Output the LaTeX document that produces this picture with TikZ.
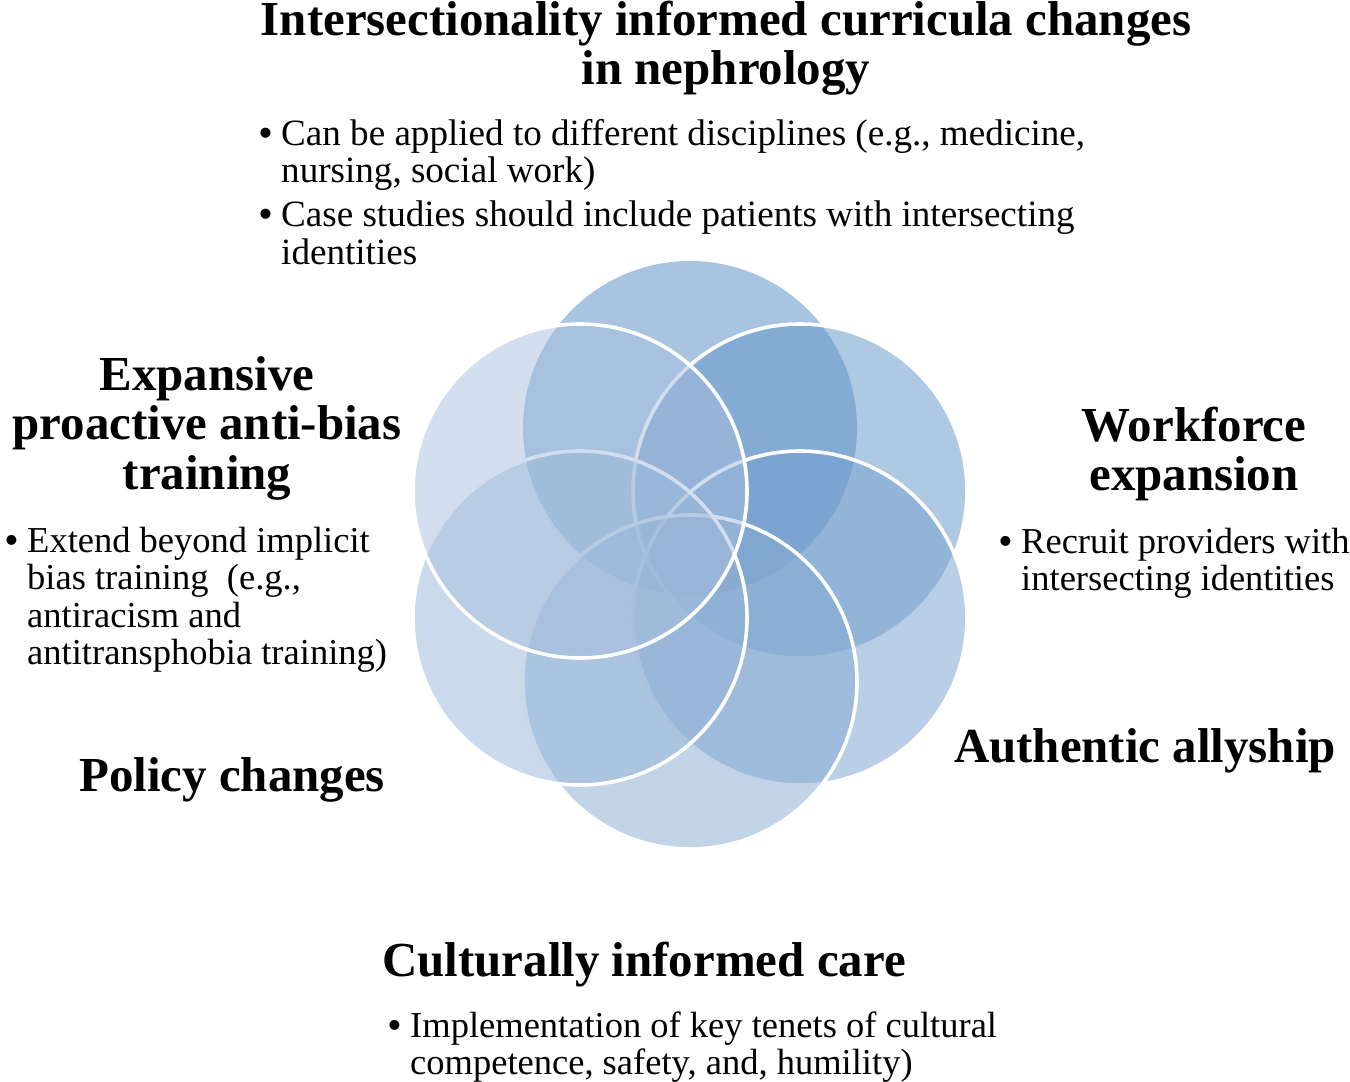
\documentclass[tikz,border=0pt]{standalone}
\usepackage{fontspec}
\setmainfont{Liberation Serif}
\newfontfamily\bulfont{Liberation Sans}
\definecolor{cA}{RGB}{81,137,193}
\definecolor{cB}{RGB}{98,148,199}
\definecolor{cC}{RGB}{115,159,204}
\definecolor{cD}{RGB}{133,169,210}
\definecolor{cE}{RGB}{150,180,215}
\definecolor{cF}{RGB}{167,191,221}
\newcommand\mybul{\makebox[22pt][l]{\bulfont •}}
\tikzset{
  venn/.style={circle, minimum size=334pt, inner sep=0pt, outer sep=0pt, fill opacity=0.5},
  ring/.style={draw=white, line width=3.6pt},
  ttl/.style={font=\fontsize{48.9}{49.5}\selectfont\bfseries, inner sep=0pt, anchor=base},
  blt/.style={font=\fontsize{37.1}{37.8}\selectfont, inner sep=0pt, anchor=base west},
  bltsmall/.style={font=\fontsize{36.5}{37.6}\selectfont, inner sep=0pt, anchor=base west}
}
\begin{document}
\begin{tikzpicture}[x=1pt,y=-1pt]
\useasboundingbox (0,0) rectangle (1350,1082);
% circles, drawn clockwise from the top
\node[venn, fill=cA] (ctop) at (690,428) {};
\node[venn, fill=cB, ring] (cur) at (800,491) {};
\node[venn, fill=cC, ring] (clr) at (800,618) {};
\node[venn, fill=cD, ring] (cbot) at (690,682) {};
\node[venn, fill=cE, ring] (cll) at (580,618) {};
\node[venn, fill=cF, ring] (cul) at (580,491) {};
% top
\node[ttl] (ttop) at (726,35) {\begin{tabular}[t]{@{}c@{}}Intersectionality informed curricula changes\\ in nephrology\end{tabular}};
\node[blt] (btop) at (259,145) {\begin{tabular}[t]{@{}l@{}l@{}}\mybul & Can be applied to different disciplines (e.g., medicine,\\ & nursing, social work)\\[6pt] \mybul & Case studies should include patients with intersecting\\ & identities\end{tabular}};
% left
\node[ttl] (tleft) at (207,390) {\begin{tabular}[t]{@{}c@{}}Expansive\\ proactive anti-bias\\ training\end{tabular}};
\node[bltsmall] (bleft) at (5,552) {\begin{tabular}[t]{@{}l@{}l@{}}\mybul & Extend beyond implicit\\ & bias training\ \ (e.g.,\\ & antiracism and\\ & antitransphobia training)\end{tabular}};
% right
\node[ttl] (tright) at (1194,441) {\begin{tabular}[t]{@{}c@{}}Workforce\\ expansion\end{tabular}};
\node[bltsmall] (bright) at (999,553) {\begin{tabular}[t]{@{}l@{}l@{}}\mybul & Recruit providers with\\ & intersecting identities\end{tabular}};
% lower labels
\node[ttl] (tally) at (1145,762) {Authentic allyship};
\node[ttl] (tpol) at (232,791) {Policy changes};
\node[ttl] (tcare) at (644,976) {Culturally informed care};
\node[bltsmall] (bcare) at (388,1037) {\begin{tabular}[t]{@{}l@{}l@{}}\mybul & Implementation of key tenets of cultural\\ & competence, safety, and, humility)\end{tabular}};
\end{tikzpicture}
\end{document}
